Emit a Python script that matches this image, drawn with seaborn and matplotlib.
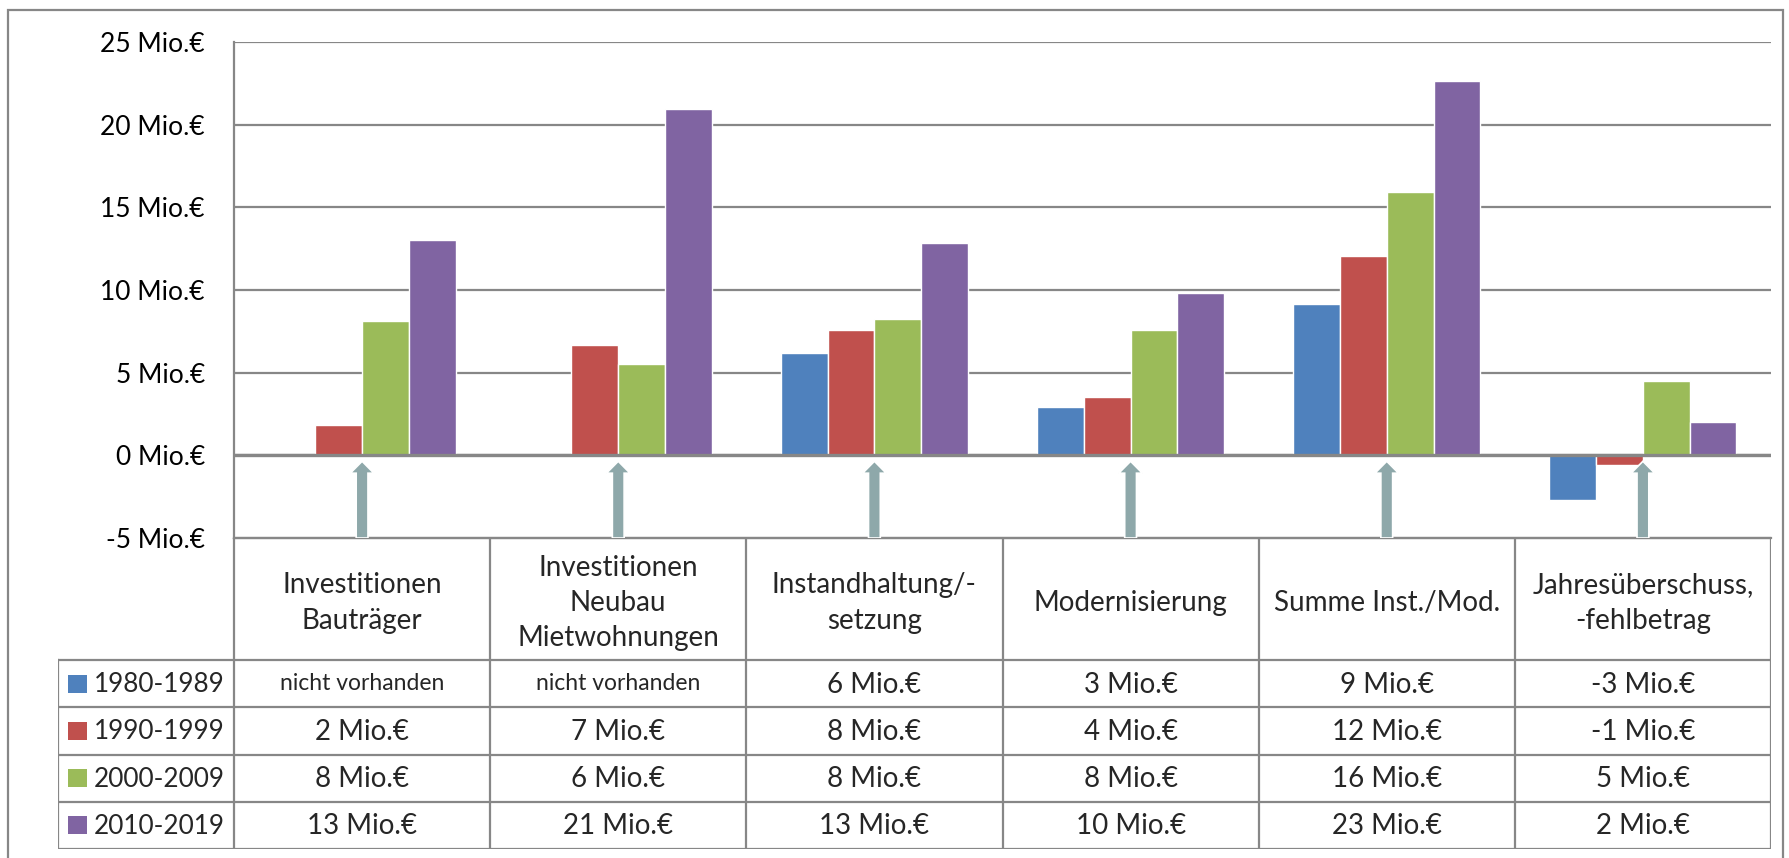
import numpy as np
import pandas as pd
import matplotlib
matplotlib.use("Agg")
import matplotlib.pyplot as plt
from matplotlib.patches import Rectangle, FancyArrow
import seaborn as sns

# ---- data (Mio. €) ----
categories = [
    "Investitionen\nBauträger",
    "Investitionen\nNeubau\nMietwohnungen",
    "Instandhaltung/-\nsetzung",
    "Modernisierung",
    "Summe Inst./Mod.",
    "Jahresüberschuss,\n-fehlbetrag",
]
decades = ["1980-1989", "1990-1999", "2000-2009", "2010-2019"]
v_1980s = [np.nan, np.nan, 6.2, 2.95, 9.17, -2.7]
v_1990s = [1.86, 6.69, 7.6, 3.5, 12.07, -0.6]
v_2000s = [8.14, 5.52, 8.25, 7.6, 15.93, 4.52]
v_2010s = [13.03, 20.95, 12.83, 9.8, 22.62, 1.99]
missing_label = "nicht vorhanden"
y_ticks = [-5, 0, 5, 10, 15, 20, 25]
unit = "Mio.€"

colors = ["#4F81BD", "#C0504D", "#9BBB59", "#8064A2"]
grey = "#878787"
arrow_color = "#8EA8AA"

series = [v_1980s, v_1990s, v_2000s, v_2010s]
df = pd.DataFrame(
    [(c, d, v) for d, vals in zip(decades, series) for c, v in zip(categories, vals)],
    columns=["category", "decade", "value"],
).dropna()

sns.set_style("white")
plt.rcParams["font.family"] = ["Lato", "DejaVu Sans"]

W, H = 1789, 858
fig = plt.figure(figsize=(W / 100, H / 100), dpi=100)
fig.patch.set_facecolor("white")

# pixel layout
left_px, right_px = 234, 1771
top_px, plot_bottom_px = 42, 538
legend_left_px, table_bottom_px = 58, 849
col_px = (right_px - left_px) / len(categories)

ax = fig.add_axes([left_px / W, 1 - plot_bottom_px / H,
                   (right_px - left_px) / W, (plot_bottom_px - top_px) / H])
sns.barplot(data=df, x="category", y="value", hue="decade", order=categories,
            hue_order=decades, palette=colors, width=0.73, saturation=1,
            errorbar=None, legend=False, ax=ax, zorder=2)
ax.set_xlim(-0.5, len(categories) - 0.5)
ax.set_ylim(y_ticks[0], y_ticks[-1])
ax.set_yticks(y_ticks)
ax.set_yticklabels([f"{t} {unit}" for t in y_ticks], fontsize=19)
ax.set_xticks([])
ax.set_xlabel("")
ax.set_ylabel("")
ax.tick_params(axis="y", length=0, pad=21, labelcolor="black")
ax.yaxis.grid(True, color=grey, lw=1.6)
ax.set_axisbelow(True)
for s in ["top", "right"]:
    ax.spines[s].set_visible(False)
for s in ["left", "bottom"]:
    ax.spines[s].set_color(grey)
    ax.spines[s].set_linewidth(1.6)
ax.axhline(0, color=grey, lw=2.4, zorder=3)

# upward arrows from the table to each category
for i in range(len(categories)):
    ax.add_patch(FancyArrow(i, y_ticks[0], 0, 4.64, width=0.046, head_width=0.092,
                            head_length=0.72, length_includes_head=True,
                            fc=arrow_color, ec="white", lw=1.2, zorder=6,
                            clip_on=False))

# ---- data table below the chart ----
tab_h = table_bottom_px - plot_bottom_px
tax = fig.add_axes([legend_left_px / W, 1 - table_bottom_px / H,
                    (right_px - legend_left_px) / W, tab_h / H])
x_leg = -0.5 - (left_px - legend_left_px) / col_px
x_end = len(categories) - 0.5
tax.set_xlim(x_leg, x_end)
tax.set_ylim(tab_h, 0)
tax.axis("off")

header_h = 122
row_h = (tab_h - header_h) / len(decades)
lkw = dict(color=grey, lw=1.6, solid_capstyle="projecting")
for k in range(len(categories) + 1):
    tax.plot([-0.5 + k, -0.5 + k], [0, tab_h], **lkw)
tax.plot([x_leg, x_leg], [header_h, tab_h], **lkw)
tax.plot([-0.5, x_end], [0, 0], **lkw)
for r in range(len(decades) + 1):
    yy = header_h + r * row_h
    tax.plot([x_leg, x_end], [yy, yy], **lkw)

for i, cat in enumerate(categories):
    tax.text(i, 65, cat, ha="center", va="center", fontsize=20, linespacing=1.45)

for r, (d, vals, c) in enumerate(zip(decades, series, colors)):
    yc = header_h + (r + 0.5) * row_h
    tax.add_patch(Rectangle((x_leg + 10 / col_px, yc - 9), 19 / col_px, 18,
                            fc=c, ec="none"))
    tax.text(x_leg + 36 / col_px, yc + 1, d, ha="left", va="center", fontsize=18.8)
    for i, v in enumerate(vals):
        if np.isnan(v):
            tax.text(i, yc, missing_label, ha="center", va="center", fontsize=16.5)
        else:
            tax.text(i, yc + 1, f"{round(v)} {unit}", ha="center", va="center",
                     fontsize=20)

# outer chart frame
fig.patches.append(Rectangle((8 / W, 1 - 875 / H), (1783 - 8) / W, (875 - 10) / H,
                             transform=fig.transFigure, fill=False, ec=grey, lw=1.6))

fig.savefig("out.png", dpi=100, facecolor="white")
